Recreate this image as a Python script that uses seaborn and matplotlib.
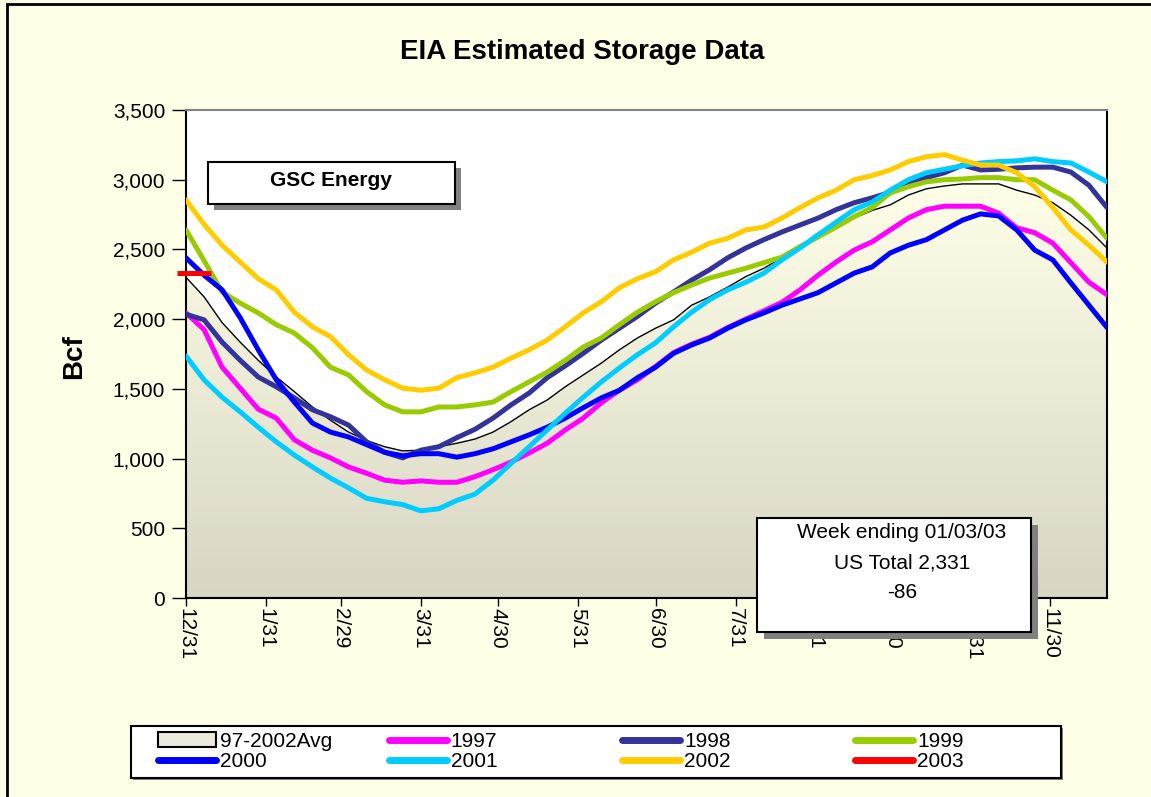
import numpy as np
import pandas as pd
import matplotlib.pyplot as plt
from matplotlib.colors import LinearSegmentedColormap
from matplotlib.lines import Line2D
from matplotlib.patches import Rectangle
import seaborn as sns

sns.set_theme(style='white')
plt.rcParams['font.family'] = ['Liberation Sans', 'DejaVu Sans']
plt.rcParams['text.color'] = 'black'

# weekly points, days after 12/31
days = np.arange(0, 358, 7)

avg = [2300, 2160, 1975, 1835, 1705, 1585, 1480, 1370, 1275, 1190,
       1130, 1085, 1055, 1060, 1085, 1110, 1140, 1190, 1265, 1350,
       1420, 1515, 1600, 1685, 1780, 1865, 1935, 1995, 2100, 2160,
       2230, 2305, 2365, 2440, 2510, 2580, 2655, 2725, 2780, 2820,
       2890, 2935, 2955, 2970, 2970, 2970, 2925, 2890, 2835, 2745,
       2640, 2510]
y1997 = [2045, 1925, 1655, 1505, 1355, 1290, 1135, 1060, 1005, 940,
         895, 845, 830, 840, 830, 830, 870, 920, 975, 1040,
         1110, 1205, 1290, 1400, 1490, 1565, 1660, 1760, 1820, 1870,
         1940, 2000, 2060, 2120, 2210, 2315, 2410, 2495, 2555, 2640,
         2725, 2785, 2810, 2810, 2810, 2760, 2655, 2620, 2545, 2405,
         2265, 2175]
y1998 = [2035, 1995, 1835, 1705, 1585, 1515, 1435, 1350, 1300, 1240,
         1120, 1045, 1005, 1060, 1085, 1150, 1210, 1290, 1385, 1470,
         1580, 1665, 1755, 1850, 1935, 2020, 2115, 2195, 2280, 2355,
         2440, 2510, 2570, 2625, 2675, 2725, 2785, 2835, 2870, 2910,
         2975, 3015, 3050, 3105, 3070, 3075, 3085, 3090, 3090, 3055,
         2960, 2800]
y1999 = [2640, 2420, 2195, 2115, 2045, 1960, 1900, 1795, 1655, 1600,
         1480, 1385, 1335, 1335, 1370, 1370, 1385, 1405, 1480, 1550,
         1620, 1705, 1800, 1865, 1960, 2050, 2125, 2190, 2245, 2295,
         2330, 2365, 2405, 2445, 2520, 2590, 2660, 2735, 2800, 2905,
         2950, 2985, 3000, 3005, 3015, 3015, 3000, 3000, 2925, 2855,
         2735, 2580]
y2000 = [2440, 2315, 2210, 2010, 1780, 1565, 1405, 1255, 1190, 1155,
         1100, 1045, 1020, 1035, 1035, 1010, 1035, 1070, 1120, 1170,
         1225, 1290, 1365, 1435, 1490, 1580, 1655, 1755, 1815, 1865,
         1935, 1995, 2045, 2100, 2145, 2190, 2260, 2330, 2375, 2475,
         2530, 2570, 2640, 2710, 2755, 2740, 2640, 2495, 2425, 2260,
         2100, 1940]
y2001 = [1735, 1565, 1440, 1335, 1225, 1120, 1025, 940, 860, 790,
         715, 690, 670, 625, 640, 700, 745, 845, 965, 1085,
         1205, 1325, 1440, 1550, 1650, 1745, 1830, 1945, 2050, 2140,
         2210, 2265, 2330, 2425, 2510, 2605, 2695, 2785, 2840, 2925,
         3000, 3050, 3075, 3100, 3120, 3130, 3135, 3150, 3130, 3120,
         3055, 2985]
y2002 = [2855, 2680, 2530, 2410, 2290, 2210, 2050, 1945, 1875, 1745,
         1635, 1565, 1505, 1490, 1505, 1580, 1615, 1655, 1720, 1780,
         1850, 1945, 2045, 2125, 2225, 2290, 2340, 2425, 2480, 2545,
         2580, 2640, 2660, 2725, 2800, 2870, 2925, 3000, 3030, 3070,
         3130, 3165, 3180, 3140, 3105, 3105, 3050, 2950, 2800, 2640,
         2530, 2410]
days2003 = [3]
y2003 = [2331]

tick_days = [0, 31, 60, 91, 121, 152, 182, 213, 244, 274, 305, 335]
tick_labels = ['12/31', '1/31', '2/29', '3/31', '4/30', '5/31', '6/30',
               '7/31', '8/31', '9/30', '10/31', '11/30']

names = ['1997', '1998', '1999', '2000', '2001', '2002']
colors = {'1997': '#FF00FF', '1998': '#333399', '1999': '#99CC00',
          '2000': '#0000FF', '2001': '#00CCFF', '2002': '#FFCC00',
          '2003': '#FF0000'}

df = pd.DataFrame({
    'day': np.tile(days, len(names)),
    'Bcf': np.concatenate([y1997, y1998, y1999, y2000, y2001, y2002]),
    'Series': np.repeat(names, len(days)),
})

W, H = 1151, 797
fx = lambda x: x / W
fy = lambda y: 1 - y / H

fig = plt.figure(figsize=(W / 100, H / 100), dpi=100, facecolor='#FFFFE8')
ax = fig.add_axes([fx(186), fy(598), (1107 - 186) / W, (598 - 110) / H])
ax.set_facecolor('white')

# gradient area under the average
cmap = LinearSegmentedColormap.from_list('avg', ['#D8D6C3', '#FFFFE8'])
grad = np.linspace(0, 1, 256).reshape(-1, 1)
im = ax.imshow(grad, extent=[0, 357, 0, 3000], origin='lower', aspect='auto',
               cmap=cmap, zorder=1)
poly = ax.fill_between(days, avg, 0, facecolor='none', edgecolor='none')
im.set_clip_path(poly.get_paths()[0], transform=ax.transData)
sns.lineplot(x=days, y=avg, color='black', linewidth=1.0, ax=ax, zorder=2)

sns.lineplot(data=df, x='day', y='Bcf', hue='Series', hue_order=names,
             palette=colors, linewidth=3.6, legend=False, ax=ax, zorder=3)
for l in ax.lines:
    l.set_solid_joinstyle('round')
ax.plot(days2003, y2003, marker='_', ms=24, mew=3.6, color=colors['2003'],
        linestyle='none', clip_on=False, zorder=4)

ax.set_xlim(0, 357)
ax.set_ylim(0, 3500)
ax.set_xticks(tick_days)
ax.set_xticklabels(tick_labels, rotation=-90)
ax.set_yticks(range(0, 3501, 500))
ax.set_yticklabels([f'{v:,}' for v in range(0, 3501, 500)])
ax.tick_params(axis='both', direction='out', width=1, color='black',
               labelsize=15, labelcolor='black')
ax.tick_params(axis='x', bottom=True, length=6, pad=1)
ax.tick_params(axis='y', left=True, length=10, pad=5)
ax.set_xlabel('')
ax.set_ylabel('')
for s in ['left', 'bottom', 'right']:
    ax.spines[s].set_color('black')
    ax.spines[s].set_linewidth(1.5)
ax.spines['top'].set_color('#808080')
ax.spines['top'].set_linewidth(1.5)

fig.text(fx(582), fy(52), 'EIA Estimated Storage Data', fontsize=20,
         fontweight='bold', ha='center', va='center')
fig.text(fx(74), fy(357), 'Bcf', fontsize=20, fontweight='bold',
         rotation=90, ha='center', va='center')


def box(x0, y0, x1, y1, shadow=7, z=5):
    fig.add_artist(Rectangle((fx(x0 + shadow), fy(y1 + shadow)), (x1 - x0) / W,
                             (y1 - y0) / H, transform=fig.transFigure,
                             facecolor='#808080', edgecolor='none', zorder=z))
    fig.add_artist(Rectangle((fx(x0), fy(y1)), (x1 - x0) / W, (y1 - y0) / H,
                             transform=fig.transFigure, facecolor='white',
                             edgecolor='black', lw=1.5, zorder=z + 0.5))


box(208, 162, 455, 204, shadow=6)
fig.text(fx(331), fy(181), 'GSC Energy', fontsize=15, fontweight='bold',
         ha='center', va='center', zorder=7)

box(757, 518, 1031, 632)
for txt, yy in [('Week ending 01/03/03', 533), ('US Total 2,331', 563), ('-86', 592)]:
    fig.text(fx(902), fy(yy), txt, fontsize=15, ha='center', va='center', zorder=7)

# legend
box(131, 726, 1061, 778, shadow=1.5, z=5)
avg_handle = Rectangle((0, 0), 1, 1, facecolor='#ECEADC', edgecolor='black', lw=1.5)
line_h = {k: Line2D([], [], color=c, lw=5, solid_capstyle='round') for k, c in colors.items()}
cols = [([avg_handle, line_h['2000']], ['97-2002Avg', '2000']),
        ([line_h['1997'], line_h['2001']], ['1997', '2001']),
        ([line_h['1998'], line_h['2002']], ['1998', '2002']),
        ([line_h['1999'], line_h['2003']], ['1999', '2003'])]
for x0, (hs, ls) in zip([158, 389, 622, 855], cols):
    leg = fig.legend(hs, ls, loc='center left', bbox_to_anchor=(fx(x0), fy(751.5)),
                     frameon=False, fontsize=15, handlelength=2.8,
                     handletextpad=0.17, labelspacing=0.05, borderpad=0,
                     borderaxespad=0, labelcolor='black')
    leg.set_zorder(8)

# outer chart border
fig.add_artist(Rectangle((fx(7), -0.1), 2, fy(4) + 0.1, fill=False,
                         edgecolor='black', lw=2, transform=fig.transFigure,
                         zorder=10))

fig.savefig('out.png', dpi=100, facecolor=fig.get_facecolor())
